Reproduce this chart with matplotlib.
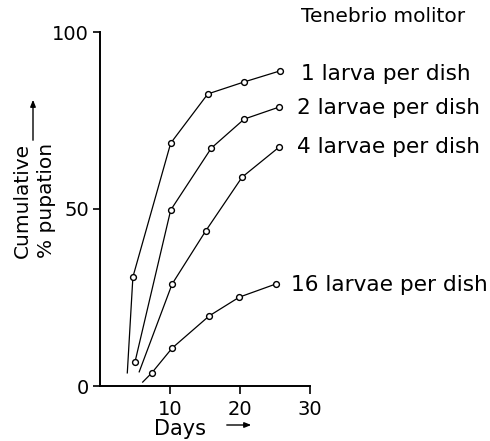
import matplotlib
matplotlib.use("Agg")
import matplotlib.pyplot as plt

# Data
days_1 = [3.9, 4.7, 10.1, 15.4, 20.6, 25.7]
pup_1 = [3.7, 30.8, 68.6, 82.5, 85.9, 89.0]
days_2 = [5.0, 10.1, 15.9, 20.6, 25.6]
pup_2 = [6.8, 49.7, 67.2, 75.4, 78.8]
days_4 = [5.6, 10.3, 15.1, 20.3, 25.6]
pup_4 = [4.0, 28.8, 43.8, 59.0, 67.5]
days_16 = [6.1, 7.4, 10.3, 15.6, 19.9, 25.1]
pup_16 = [1.1, 3.7, 10.7, 19.8, 25.1, 28.8]

series = [
    (days_1, pup_1, "1 larva per dish", 1),
    (days_2, pup_2, "2 larvae per dish", 0),
    (days_4, pup_4, "4 larvae per dish", 1),
    (days_16, pup_16, "16 larvae per dish", 1),
]
x_ticks = [10, 20, 30]
y_ticks = [0, 50, 100]
title = "Tenebrio molitor"

plt.rcParams['font.family'] = ['DejaVu Sans']
fig = plt.figure(figsize=(4.9, 4.41), dpi=100)
ax = fig.add_axes([100/490, 55/441, 210/490, 354/441])
ax.set_xlim(0, 30)
ax.set_ylim(0, 100)

label_x = {0: 28.7, 1: 28.2, 2: 28.2, 3: 27.3}
label_dy = {0: -0.8, 1: -0.3, 2: 0.0, 3: -0.3}
for i, (xs, ys, lab, skip) in enumerate(series):
    ax.plot(xs, ys, color='black', lw=0.9, clip_on=False)
    ax.plot(xs[skip:], ys[skip:], ls='none', marker='o', ms=4.2,
            mfc='white', mec='black', mew=1.0, clip_on=False, zorder=3)
    ax.text(label_x[i], ys[-1] + label_dy[i], lab, fontsize=15.6,
            va='center', ha='left', clip_on=False)

ax.text(28.7, 104.5, title, fontsize=14.5, va='center', ha='left', clip_on=False)

for s in ['top', 'right']:
    ax.spines[s].set_visible(False)
ax.spines['left'].set_linewidth(1.4)
ax.spines['bottom'].set_linewidth(1.4)
ax.set_xticks(x_ticks)
ax.set_yticks(y_ticks)
ax.tick_params(axis='x', direction='out', length=6, width=1.2, labelsize=14, pad=4)
ax.tick_params(axis='y', direction='out', length=5, width=1.2, labelsize=14, pad=3)

# axis titles with arrows
fig.text(180/490, 1 - 429/441, "Days", fontsize=15, ha='center', va='center')
fig.add_artist(matplotlib.patches.FancyArrowPatch(
    (224/490, 1 - 425/441), (254/490, 1 - 425/441), transform=fig.transFigure,
    arrowstyle='-|>,head_length=4,head_width=1.6', color='black', lw=1.0,
    mutation_scale=1))
fig.text(22/490, 1 - 200/441, "Cumulative", fontsize=14.5, rotation=90,
         ha='center', va='center')
fig.text(46/490, 1 - 200/441, "% pupation", fontsize=14.5, rotation=90,
         ha='center', va='center')
fig.add_artist(matplotlib.patches.FancyArrowPatch(
    (33/490, 1 - 143/441), (33/490, 1 - 97/441), transform=fig.transFigure,
    arrowstyle='-|>,head_length=4,head_width=1.6', color='black', lw=1.0,
    mutation_scale=1))

fig.savefig("out.png", dpi=100)
